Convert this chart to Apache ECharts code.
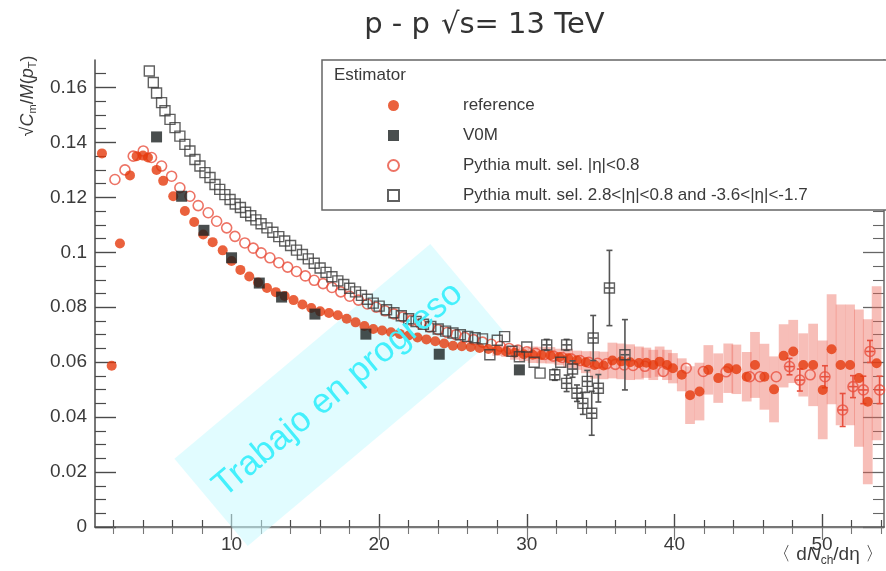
<!DOCTYPE html>
<html>
<head>
<meta charset="utf-8">
<script src="https://cdn.jsdelivr.net/npm/echarts@6/dist/echarts.min.js"></script>
<style>html,body{margin:0;padding:0;background:#fff}#c{width:886px;height:571px}</style>
</head>
<body>
<div id="c"></div>
<script>
// ---------- data ----------
const xTicks = [10, 20, 30, 40, 50];
const xMinorTicks = [2,4,6,8,12,14,16,18,22,24,26,28,32,34,36,38,42,44,46,48,52,54];
const yTicks = [0, 0.02, 0.04, 0.06, 0.08, 0.1, 0.12, 0.14, 0.16];
const yMinorTicks = [0.005,0.01,0.015,0.025,0.03,0.035,0.045,0.05,0.055,0.065,0.07,0.075,0.085,0.09,0.095,0.105,0.11,0.115,0.125,0.13,0.135,0.145,0.15,0.155,0.165];

const seriesNames = ['reference', 'V0M', 'Pythia mult. sel. |η|<0.8', 'Pythia mult. sel. 2.8<|η|<0.8 and -3.6<|η|<-1.7'];

// reference (filled red circles) with shaded error boxes
const refX = [1.22,1.88,2.44,3.12,3.57,4.0,4.34,4.92,5.37,6.05,6.84,7.47,8.08,8.72,9.4,10.0,10.6,11.2,11.8,12.4,13.0,13.6,14.2,14.8,15.4,16.0,16.6,17.2,17.8,18.4,19.0,19.6,20.2,20.8,21.4,22.0,22.6,23.2,23.8,24.4,25.0,25.6,26.2,26.8,27.4,28.0,28.6,29.2,29.8,30.4,31.0,31.6,32.2,32.8,33.4,34.0,34.6,35.2,35.8,36.4,37.0,37.6,38.1,38.57,39.0,39.5,39.9,40.5,41.06,41.7,42.3,42.97,43.65,44.2,44.9,45.46,46.1,46.75,47.4,48.05,48.73,49.4,50.05,50.65,51.26,51.9,52.5,53.1,53.7];
const refY = [0.136,0.0587,0.1032,0.128,0.135,0.1352,0.1345,0.130,0.126,0.1204,0.115,0.111,0.1065,0.1037,0.1007,0.0968,0.0936,0.0912,0.0890,0.0870,0.0855,0.0841,0.0826,0.0810,0.0797,0.0785,0.0779,0.0771,0.0758,0.0745,0.0732,0.0721,0.0715,0.0709,0.0703,0.0697,0.0690,0.0683,0.0676,0.0668,0.0660,0.0658,0.0655,0.0652,0.0648,0.0643,0.0639,0.0634,0.0629,0.0627,0.0626,0.0625,0.0619,0.0614,0.0607,0.0600,0.0590,0.0588,0.0606,0.0603,0.0600,0.0597,0.0598,0.0590,0.0602,0.0590,0.0578,0.0554,0.0480,0.0493,0.0572,0.0542,0.0578,0.0574,0.0547,0.0590,0.0547,0.0501,0.0623,0.0639,0.0590,0.0590,0.0499,0.0647,0.0590,0.0590,0.0542,0.0456,0.0596];
const refErr = [0,0,0,0,0,0,0,0,0,0,0,0,0,0,0,0,0,0,0,0,0,0,0,0,0,0,0,0,0,0,0,0,0,0,0,0,0,0,0,0,0,0,0,0,0,0.002,0.002,0.0025,0.0025,0.003,0.003,0.003,0.003,0.0035,0.0035,0.004,0.005,0.005,0.0065,0.0065,0.0065,0.006,0.0055,0.0055,0.0055,0.0055,0.0055,0.006,0.0105,0.0105,0.009,0.009,0.009,0.009,0.009,0.012,0.012,0.012,0.0115,0.0115,0.0115,0.015,0.018,0.02,0.022,0.022,0.025,0.03,0.028];

// V0M (filled black squares)
const v0mX = [4.92,6.62,8.13,10.0,11.88,13.39,15.65,19.1,24.07,29.5];
const v0mY = [0.142,0.1204,0.108,0.098,0.0888,0.0837,0.0775,0.0702,0.0629,0.0572];

// Pythia |eta|<0.8 (open red circles)
const pyCX = [2.1,2.78,3.34,4.02,4.58,5.26,5.94,6.5,7.18,7.74,8.42,8.99,9.67,10.23,10.9,11.47,12.0,12.6,13.2,13.8,14.4,15.0,15.6,16.2,16.8,17.4,18.0,18.6,19.2,19.8,20.4,21.0,21.6,22.2,22.8,23.4,24.0,24.6,25.2,25.8,26.4,27.0,27.6,28.2,28.8,29.4,30.0,30.6,31.2,31.8,32.4,33.0,33.6,34.2,34.8,35.4,36.0,36.6,37.2,38.0,39.25,40.8,41.96,43.5,45.1,45.8,46.9,47.8,48.5,49.2,50.2,51.4,52.1,52.8,53.25,53.9];
const pyCY = [0.1265,0.130,0.135,0.1369,0.1345,0.1314,0.1277,0.1235,0.1204,0.117,0.1144,0.1113,0.1089,0.1058,0.1034,0.1015,0.0998,0.0980,0.0962,0.0946,0.0930,0.0914,0.0898,0.0886,0.0872,0.0856,0.0840,0.0826,0.0812,0.0800,0.0787,0.0776,0.0765,0.0752,0.0740,0.0728,0.0718,0.0708,0.0700,0.0690,0.0682,0.0673,0.0665,0.0658,0.0650,0.0644,0.0638,0.0632,0.0628,0.0622,0.0617,0.0612,0.0606,0.0600,0.0596,0.0594,0.0592,0.0590,0.0588,0.0585,0.0566,0.0578,0.0566,0.0565,0.0547,0.0547,0.0547,0.0584,0.0535,0.0554,0.0547,0.0426,0.0511,0.0499,0.0639,0.0499];
const pyCErr = [0,0,0,0,0,0,0,0,0,0,0,0,0,0,0,0,0,0,0,0,0,0,0,0,0,0,0,0,0,0,0,0,0,0,0,0,0,0,0,0,0,0,0,0,0,0,0,0,0,0,0,0,0,0,0,0,0,0,0,0,0,0,0,0,0,0,0,0.003,0.004,0,0.004,0.006,0.004,0.005,0.004,0.005];

// Pythia 2.8<|eta|... (open black squares)
const pyFX = [4.43,4.7,4.92,5.26,5.49,5.83,6.17,6.5,6.84,7.18,7.52,7.86,8.2,8.54,8.88,9.2,9.55,9.9,10.25,10.6,10.95,11.3,11.65,12.0,12.4,12.8,13.2,13.6,14.0,14.4,14.8,15.2,15.6,16.0,16.4,16.8,17.2,17.6,18.0,18.4,18.8,19.2,19.6,20.0,20.5,21.0,21.5,22.0,22.5,23.0,23.5,24.0,24.5,25.0,25.5,26.0,26.5,27.0,27.5,28.0,28.5,29.0,29.5,30.0,30.5,30.9,31.35,31.9,32.3,32.7,32.7,33.1,33.4,33.8,34.1,34.4,34.5,34.85,35.6,36.65];
const pyFY = [0.166,0.1618,0.158,0.1545,0.1515,0.1484,0.1454,0.1423,0.1393,0.1369,0.1338,0.1314,0.129,0.1272,0.1247,0.1229,0.121,0.1192,0.1176,0.1163,0.1146,0.1133,0.1118,0.1104,0.1089,0.1073,0.1057,0.1041,0.1025,0.1008,0.0992,0.0976,0.0960,0.0943,0.0927,0.0911,0.0896,0.0883,0.0869,0.0856,0.0843,0.0829,0.0815,0.0804,0.0791,0.0780,0.0769,0.0758,0.0748,0.0738,0.0730,0.0721,0.0713,0.0706,0.0700,0.0694,0.0689,0.0685,0.0627,0.0680,0.0693,0.0640,0.0620,0.0655,0.0600,0.0560,0.0663,0.0554,0.0600,0.0663,0.0523,0.0575,0.0487,0.0450,0.0530,0.0414,0.0688,0.0505,0.0870,0.0627];
const pyFErr = [0,0,0,0,0,0,0,0,0,0,0,0,0,0,0,0,0,0,0,0,0,0,0,0,0,0,0,0,0,0,0,0,0,0,0,0,0,0,0,0,0,0,0,0,0,0,0,0,0,0,0,0,0,0,0,0,0,0,0,0,0,0,0,0,0,0,0.002,0.002,0,0.002,0.003,0.003,0.003,0.004,0.004,0.008,0.0082,0.005,0.0137,0.0128];

// ---------- build ----------
const zip = (a, b, c) => a.map((v, i) => c ? [v, b[i], c[i]] : [v, b[i]]);
const FONT = 'Liberation Sans';
const AXC = '#4a4a4a';
const TXT = '#3a3a3a';
const RED = '#e5390c';
const RED_OPEN = '#e8503e';

function renderBox(params, api) {
  const x = api.value(0), y = api.value(1), e = api.value(2);
  if (!e) return null;
  const p1 = api.coord([x - 0.33, y + e]);
  const p2 = api.coord([x + 0.33, y - e]);
  return { type: 'rect', shape: { x: p1[0], y: p1[1], width: p2[0] - p1[0], height: p2[1] - p1[1] },
    style: { fill: 'rgba(236,100,86,0.42)' } };
}
function makeBarRenderer(color) {
  return function (params, api) {
    const x = api.value(0), y = api.value(1), e = api.value(2);
    if (!e) return null;
    const t = api.coord([x, y + e]), b = api.coord([x, y - e]);
    const l = api.coord([x - 0.3, y]), r = api.coord([x + 0.3, y]);
    const st = { stroke: color, lineWidth: 1.6 };
    return { type: 'group', children: [
      { type: 'line', shape: { x1: t[0], y1: t[1], x2: b[0], y2: b[1] }, style: st },
      { type: 'line', shape: { x1: l[0], y1: l[1], x2: r[0], y2: r[1] }, style: st },
      { type: 'line', shape: { x1: t[0] - 3, y1: t[1], x2: t[0] + 3, y2: t[1] }, style: st },
      { type: 'line', shape: { x1: b[0] - 3, y1: b[1], x2: b[0] + 3, y2: b[1] }, style: st }
    ] };
  };
}

const XMIN = 0.75, XMAX = 54.2, YMIN = 0, YMAX = 0.17;
const baseX = { type: 'value', min: XMIN, max: XMAX, gridIndex: 0, splitLine: { show: false } };
const baseY = { type: 'value', min: YMIN, max: YMAX, gridIndex: 0, splitLine: { show: false } };
const yFmt = v => (Math.abs(v) < 1e-9 ? '0' : String(parseFloat(v.toFixed(3))));
const ROT = 40 * Math.PI / 180;

const chart = echarts.init(document.getElementById('c'), null, { renderer: 'canvas' });
chart.setOption({
  animation: false,
  backgroundColor: '#fff',
  grid: { left: 95, right: 2, top: 60, bottom: 44, containLabel: false },
  xAxis: [
    Object.assign({}, baseX, { position: 'bottom',
      axisLine: { lineStyle: { color: AXC, width: 1.5 } },
      axisTick: { inside: true, length: 13, customValues: xTicks, lineStyle: { color: AXC, width: 1.4 } },
      axisLabel: { customValues: xTicks, fontSize: 19, color: TXT, fontFamily: FONT, margin: 8 } }),
    Object.assign({}, baseX, { position: 'bottom',
      axisLine: { show: false },
      axisTick: { inside: true, length: 7, customValues: xMinorTicks, lineStyle: { color: AXC, width: 1.2 } },
      axisLabel: { show: false } }),
    Object.assign({}, baseX, { position: 'top',
      axisLine: { lineStyle: { color: '#777', width: 1.3 } },
      axisTick: { inside: true, length: 13, customValues: xTicks, lineStyle: { color: '#777', width: 1.2 } },
      axisLabel: { show: false } }),
    Object.assign({}, baseX, { position: 'top',
      axisLine: { show: false },
      axisTick: { inside: true, length: 7, customValues: xMinorTicks, lineStyle: { color: '#777', width: 1.1 } },
      axisLabel: { show: false } })
  ],
  yAxis: [
    Object.assign({}, baseY, { position: 'left',
      axisLine: { lineStyle: { color: AXC, width: 1.5 } },
      axisTick: { inside: true, length: 21, customValues: yTicks, lineStyle: { color: AXC, width: 1.4 } },
      axisLabel: { customValues: yTicks, formatter: yFmt, fontSize: 19, color: TXT, fontFamily: FONT, margin: 8 } }),
    Object.assign({}, baseY, { position: 'left',
      axisLine: { show: false },
      axisTick: { inside: true, length: 11, customValues: yMinorTicks, lineStyle: { color: AXC, width: 1.2 } },
      axisLabel: { show: false } }),
    Object.assign({}, baseY, { position: 'right',
      axisLine: { lineStyle: { color: '#666', width: 1.5 } },
      axisTick: { inside: true, length: 21, customValues: yTicks, lineStyle: { color: '#666', width: 1.3 } },
      axisLabel: { show: false } }),
    Object.assign({}, baseY, { position: 'right',
      axisLine: { show: false },
      axisTick: { inside: true, length: 11, customValues: yMinorTicks, lineStyle: { color: '#666', width: 1.1 } },
      axisLabel: { show: false } })
  ],
  legend: {
    orient: 'vertical', left: 387, top: 97, padding: 0,
    itemWidth: 11, itemHeight: 11, itemGap: 13,
    data: seriesNames,
    textStyle: { fontSize: 17, color: TXT, fontFamily: FONT, padding: [0, 0, 0, 59] },
    z: 6
  },
  graphic: [
    { type: 'rect', z: 1, x: 339, y: 395, rotation: ROT,
      shape: { x: -167, y: -57, width: 334, height: 114 },
      style: { fill: 'rgba(200,250,255,0.55)' }, silent: true },
    { type: 'text', z: 10, x: 338, y: 390, rotation: ROT,
      style: { text: 'Trabajo en progreso', fontSize: 35, fontFamily: FONT, fill: '#44f0fc', align: 'center', verticalAlign: 'middle' }, silent: true },
    { type: 'rect', z: 5, shape: { x: 322, y: 60, width: 700, height: 150 },
      style: { fill: '#fff', stroke: '#666', lineWidth: 1.5 } },
    { type: 'text', z: 6, x: 334, y: 75,
      style: { text: 'Estimator', fontSize: 17, fontFamily: FONT, fill: TXT, verticalAlign: 'middle' } },
    { type: 'text', z: 6, x: 397, y: 25,
      style: { text: 'p - p', fontSize: 29, fontFamily: 'DejaVu Sans', fill: '#333', align: 'center', verticalAlign: 'middle' } },
    { type: 'text', z: 6, x: 441, y: 25,
      style: { text: '√s= 13 TeV', fontSize: 29, fontFamily: 'DejaVu Sans', fill: '#333', align: 'left', verticalAlign: 'middle' } },
    { type: 'text', z: 6, x: 28, y: 96, rotation: Math.PI / 2,
      style: { text: '{n|√}{i|C}{s|m}{n|/}{i|M}{n|(}{i|p}{s|T}{n|)}', align: 'center', verticalAlign: 'middle',
        rich: {
          n: { fontSize: 18, fontFamily: FONT, fill: TXT },
          i: { fontSize: 18, fontFamily: FONT, fontStyle: 'italic', fill: TXT },
          s: { fontSize: 11, fontFamily: FONT, fill: TXT, padding: [9, 0, 0, 0] }
        } } },
    { type: 'text', z: 6, x: 884, y: 555,
      style: { text: '{n|〈 d}{i|N}{s|ch}{n|/dη 〉}', align: 'right', verticalAlign: 'middle',
        rich: {
          n: { fontSize: 19, fontFamily: FONT, fill: TXT },
          i: { fontSize: 19, fontFamily: FONT, fontStyle: 'italic', fill: TXT },
          s: { fontSize: 12, fontFamily: FONT, fill: TXT, padding: [12, 0, 0, 0] }
        } } }
  ],
  series: [
    { type: 'custom', name: 'refErrors', renderItem: renderBox, data: zip(refX, refY, refErr),
      encode: { x: 0, y: 1 }, clip: true, z: 2, silent: true },
    { type: 'scatter', name: seriesNames[2], data: zip(pyCX, pyCY), symbol: 'circle', symbolSize: 10,
      itemStyle: { color: 'rgba(255,255,255,0)', borderColor: RED_OPEN, borderWidth: 1.6 }, z: 3 },
    { type: 'custom', name: 'pyCErrors', renderItem: makeBarRenderer(RED_OPEN), data: zip(pyCX, pyCY, pyCErr),
      encode: { x: 0, y: 1 }, clip: true, z: 3, silent: true },
    { type: 'scatter', name: seriesNames[0], data: zip(refX, refY), symbol: 'circle', symbolSize: 10,
      itemStyle: { color: RED }, z: 4 },
    { type: 'scatter', name: seriesNames[3], data: zip(pyFX, pyFY), symbol: 'rect', symbolSize: 10,
      itemStyle: { color: 'rgba(255,255,255,0)', borderColor: '#3a3a3a', borderWidth: 1.4 }, z: 5 },
    { type: 'custom', name: 'pyFErrors', renderItem: makeBarRenderer('#555'), data: zip(pyFX, pyFY, pyFErr),
      encode: { x: 0, y: 1 }, clip: true, z: 5, silent: true },
    { type: 'scatter', name: seriesNames[1], data: zip(v0mX, v0mY), symbol: 'rect', symbolSize: 11,
      itemStyle: { color: '#1c2222' }, z: 6 }
  ]
});
</script>
</body>
</html>
